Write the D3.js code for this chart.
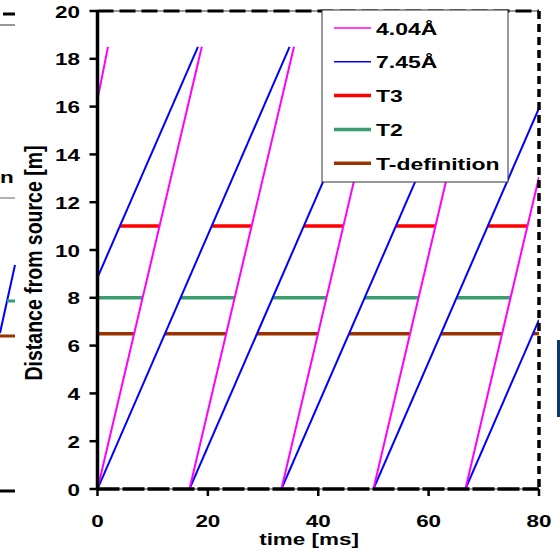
<!DOCTYPE html>
<html>
<head>
<meta charset="utf-8">
<script src="https://cdn.jsdelivr.net/npm/d3@7"></script>
<style>
  body { margin: 0; background: #fff; }
  text { font-family: "Liberation Sans", Arial, sans-serif; font-weight: bold; fill: #000; }
</style>
</head>
<body>
<div id="chart"></div>
<script>
// line segments [t1, d1, t2, d2] in ms / m
var lambda404 = [[0, 16.3, 1.9, 18.5], [0, 0, 18.9, 18.5], [16.67, 0, 35.6, 18.5],
                 [33.33, 0, 52.2, 18.5], [50, 0, 68.9, 18.5], [66.67, 0, 80, 13.05]];
var lambda745 = [[0, 8.85, 18.2, 18.5], [0, 0, 34.8, 18.5], [16.67, 0, 51.5, 18.5],
                 [33.33, 0, 68.2, 18.5], [50, 0, 80, 15.93], [66.67, 0, 80, 7.08]];
// horizontal windows [t1, t2]
var t3Level = 11;
var t3Windows = [[4.05, 11.24], [20.7, 27.9], [37.4, 44.6], [54.1, 61.2], [70.7, 77.9]];
var t2Level = 8;
var t2Windows = [[0, 8.17], [15.07, 24.84], [31.74, 41.5], [48.4, 58.2], [65.07, 74.84]];
var tdefLevel = 6.5;
var tdefWindows = [[0, 6.64], [12.24, 23.3], [28.9, 40.0], [45.6, 56.6], [62.24, 73.3], [78.9, 80]];

var xTicks = [0, 20, 40, 60, 80];
var yTicks = [0, 2, 4, 6, 8, 10, 12, 14, 16, 18, 20];
var legendNames = ["4.04\u00c5", "7.45\u00c5", "T3", "T2", "T-definition"];
var legendColors = ["#ff00ff", "#0000ff", "#ff0000", "#3a9d6e", "#993300"];
var legendWidths = [1.5, 1.5, 3.5, 3.5, 3.5];

var width = 560, height = 555;
var sx = 1.32; // the source figure is stretched sideways

var svg = d3.select("#chart").append("svg")
    .attr("width", width)
    .attr("height", height);

var x = d3.scaleLinear().domain([0, 80]).range([97.5, 539]);
var y = d3.scaleLinear().domain([0, 20]).range([489, 11]);

// bits of the neighbouring panel that got cropped in on the left
var nb = svg.append("g").attr("id", "neighbour");
nb.append("line").attr("x1", 0).attr("x2", 15).attr("y1", 25).attr("y2", 25).attr("stroke", "#999").attr("stroke-width", 2);
nb.append("line").attr("x1", 3).attr("x2", 15).attr("y1", 14).attr("y2", 14).attr("stroke", "#000").attr("stroke-width", 3);
nb.append("text").attr("transform", "translate(0,183) scale(" + sx + ",1)").style("font-size", "17px").text("n");
nb.append("line").attr("x1", 0).attr("x2", 15).attr("y1", 198).attr("y2", 198).attr("stroke", "#999").attr("stroke-width", 1.5);
nb.append("line").attr("x1", 15).attr("x2", 0).attr("y1", 265).attr("y2", 333).attr("stroke", "#0000ff").attr("stroke-width", 2);
nb.append("line").attr("x1", 7).attr("x2", 15).attr("y1", 301).attr("y2", 301).attr("stroke", "#3a9d6e").attr("stroke-width", 3);
nb.append("line").attr("x1", 0).attr("x2", 15).attr("y1", 336).attr("y2", 336).attr("stroke", "#993300").attr("stroke-width", 3);
nb.append("line").attr("x1", 0).attr("x2", 15).attr("y1", 491).attr("y2", 491).attr("stroke", "#000").attr("stroke-width", 3);
nb.append("rect").attr("x", 557).attr("y", 340).attr("width", 3).attr("height", 77).attr("fill", "#0b3a66");

svg.append("clipPath").attr("id", "plotClip")
  .append("rect")
    .attr("x", x(0)).attr("y", y(20))
    .attr("width", x(80) - x(0)).attr("height", y(0) - y(20));

var plot = svg.append("g").attr("clip-path", "url(#plotClip)");

function drawHorizontals(windows, level, color) {
    plot.append("g").selectAll("line")
        .data(windows)
        .enter()
        .append("line")
        .attr("x1", function(d) { return x(d[0]); })
        .attr("x2", function(d) { return x(d[1]); })
        .attr("y1", y(level))
        .attr("y2", y(level))
        .attr("stroke", color)
        .attr("stroke-width", 3.5);
}
drawHorizontals(tdefWindows, tdefLevel, legendColors[4]);
drawHorizontals(t2Windows, t2Level, legendColors[3]);
drawHorizontals(t3Windows, t3Level, legendColors[2]);

function drawSlopes(segs, color) {
    plot.append("g").selectAll("line")
        .data(segs)
        .enter()
        .append("line")
        .attr("x1", function(d) { return x(d[0]); })
        .attr("y1", function(d) { return y(d[1]); })
        .attr("x2", function(d) { return x(d[2]); })
        .attr("y2", function(d) { return y(d[3]); })
        .attr("stroke", color)
        .attr("stroke-width", 2);
}
drawSlopes(lambda745, legendColors[1]);
drawSlopes(lambda404, legendColors[0]);

// frame: grey under dashed black at top/bottom, dashed right, solid left
svg.append("line").attr("x1", x(0)).attr("x2", x(80)).attr("y1", y(20)).attr("y2", y(20))
    .attr("stroke", "#999").attr("stroke-width", 2);
svg.append("line").attr("x1", x(0)).attr("x2", x(80)).attr("y1", y(20)).attr("y2", y(20))
    .attr("stroke", "#000").attr("stroke-width", 3).attr("stroke-dasharray", "16,6");
svg.append("line").attr("x1", x(0)).attr("x2", x(80)).attr("y1", y(0)).attr("y2", y(0))
    .attr("stroke", "#999").attr("stroke-width", 2);
svg.append("line").attr("x1", x(0)).attr("x2", x(80)).attr("y1", y(0)).attr("y2", y(0))
    .attr("stroke", "#000").attr("stroke-width", 3.5).attr("stroke-dasharray", "22,3");
svg.append("line").attr("x1", x(80)).attr("x2", x(80)).attr("y1", y(20)).attr("y2", y(0))
    .attr("stroke", "#000").attr("stroke-width", 3.5).attr("stroke-dasharray", "8,5");
svg.append("line").attr("x1", x(0)).attr("x2", x(0)).attr("y1", y(20) - 1).attr("y2", y(0) + 1)
    .attr("stroke", "#000").attr("stroke-width", 3.5);

// y ticks + labels
var yAxis = svg.append("g");
yAxis.selectAll(".ytick").data(yTicks).enter().append("line")
    .attr("class", "ytick")
    .attr("x1", x(0) - 8).attr("x2", x(0))
    .attr("y1", function(d) { return y(d); })
    .attr("y2", function(d) { return y(d); })
    .attr("stroke", "#000").attr("stroke-width", 2.5);
yAxis.selectAll(".ylab").data(yTicks).enter().append("text")
    .attr("class", "ylab")
    .attr("transform", function(d) { return "translate(80," + (y(d) + 6.5) + ") scale(" + sx + ",1)"; })
    .style("font-size", "17px")
    .style("text-anchor", "end")
    .text(function(d) { return d; });

// x ticks + labels
var xAxis = svg.append("g");
xAxis.selectAll(".xtick").data(xTicks).enter().append("line")
    .attr("class", "xtick")
    .attr("x1", function(d) { return x(d); })
    .attr("x2", function(d) { return x(d); })
    .attr("y1", y(0)).attr("y2", y(0) + 7)
    .attr("stroke", "#000").attr("stroke-width", 2.5);
xAxis.selectAll(".xlab").data(xTicks).enter().append("text")
    .attr("class", "xlab")
    .attr("transform", function(d) { return "translate(" + x(d) + ",527) scale(" + sx + ",1)"; })
    .style("font-size", "17px")
    .style("text-anchor", "middle")
    .text(function(d) { return d; });

svg.append("text")
    .attr("transform", "translate(309,545) scale(" + sx + ",1)")
    .style("font-size", "17px")
    .style("text-anchor", "middle")
    .text("time [ms]");

svg.append("text")
    .attr("transform", "translate(42,263) scale(1.18,1) rotate(-90)")
    .style("font-size", "19.5px")
    .style("text-anchor", "middle")
    .text("Distance from source [m]");

// legend
var legend = svg.append("g").attr("id", "legend");
legend.append("rect")
    .attr("x", 322).attr("y", 10)
    .attr("width", 186).attr("height", 172)
    .attr("fill", "#fff")
    .attr("stroke", "#333").attr("stroke-width", 1);
var rows = legend.selectAll(".row").data(legendNames).enter().append("g")
    .attr("class", "row")
    .attr("transform", function(d, i) { return "translate(0," + (28 + i * 33.8) + ")"; });
rows.append("line")
    .attr("x1", 334).attr("x2", 371)
    .attr("y1", 0).attr("y2", 0)
    .attr("stroke", function(d, i) { return legendColors[i]; })
    .attr("stroke-width", function(d, i) { return legendWidths[i]; });
rows.append("text")
    .attr("transform", "translate(376,6.5) scale(1.35,1)")
    .style("font-size", "17px")
    .text(function(d) { return d; });
</script>
</body>
</html>
